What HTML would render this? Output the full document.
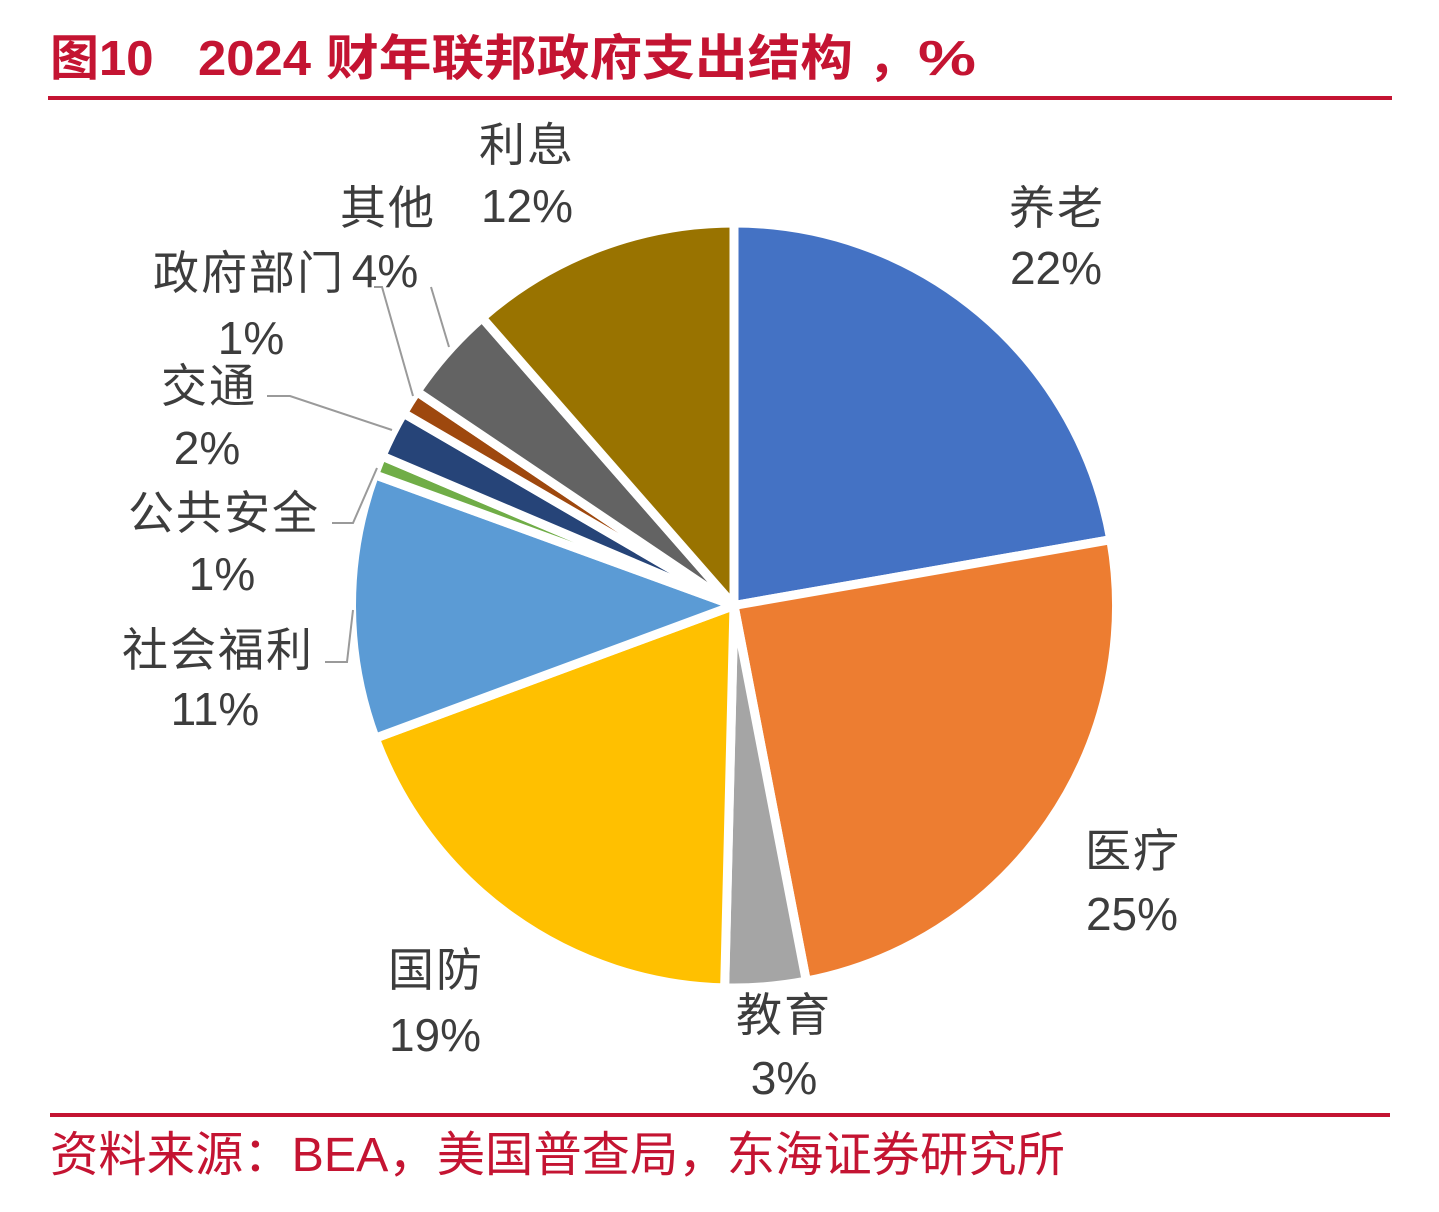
<!DOCTYPE html>
<html>
<head>
<meta charset="utf-8">
<style>
  html, body { margin: 0; padding: 0; background: #ffffff; }
  svg { display: block; }
  .t { font-family: "Liberation Sans", "Noto Sans CJK SC", sans-serif; }
  .lbl { font-family: "Liberation Sans", "Noto Sans CJK SC", sans-serif; font-size: 46px; fill: #3d3d3d; text-anchor: middle; }
  .cj { letter-spacing: 2px; }
</style>
</head>
<body>
<svg width="1439" height="1212" viewBox="0 0 1439 1212" xmlns="http://www.w3.org/2000/svg">
  <rect x="0" y="0" width="1439" height="1212" fill="#ffffff"/>

  <!-- Title -->
  <g class="t" fill="#c41432" font-weight="bold" font-size="49">
    <text x="50" y="75">图10</text>
    <text x="198" y="75" textLength="113" lengthAdjust="spacingAndGlyphs">2024</text>
    <text x="326" y="75" textLength="527" lengthAdjust="spacingAndGlyphs">财年联邦政府支出结构</text>
    <text x="868" y="75">，</text>
    <text x="918" y="75" textLength="58" lengthAdjust="spacingAndGlyphs">%</text>
  </g>
  <rect x="48" y="96" width="1344" height="4" fill="#c41432"/>

  <!-- Pie -->
  <g stroke="#ffffff" stroke-width="9" stroke-linejoin="round">
    <path d="M734,605.5 L734,223 A382.5,382.5 0 0 1 1110.80,539.74 Z" fill="#4472C4"/>
    <path d="M734,605.5 L1110.80,539.74 A382.5,382.5 0 0 1 806.33,981.10 Z" fill="#ED7D31"/>
    <path d="M734,605.5 L806.33,981.10 A382.5,382.5 0 0 1 724.65,987.89 Z" fill="#A5A5A5"/>
    <path d="M734,605.5 L724.65,987.89 A382.5,382.5 0 0 1 375.25,738.20 Z" fill="#FFC000"/>
    <path d="M734,605.5 L375.25,738.20 A382.5,382.5 0 0 1 374.57,474.68 Z" fill="#5B9BD5"/>
    <path d="M734,605.5 L374.57,474.68 A382.5,382.5 0 0 1 381.91,456.05 Z" fill="#70AD47"/>
    <path d="M734,605.5 L381.91,456.05 A382.5,382.5 0 0 1 403.41,413.09 Z" fill="#264478"/>
    <path d="M734,605.5 L403.41,413.09 A382.5,382.5 0 0 1 416.89,391.61 Z" fill="#9E480E"/>
    <path d="M734,605.5 L416.89,391.61 A382.5,382.5 0 0 1 482.05,317.70 Z" fill="#636363"/>
    <path d="M734,605.5 L482.05,317.70 A382.5,382.5 0 0 1 734,223 Z" fill="#997300"/>
  </g>

  <!-- Leader lines -->
  <g fill="none" stroke="#9a9a9a" stroke-width="2">
    <polyline points="431,287 449,347"/>
    <polyline points="374,287 382,287 413,396"/>
    <polyline points="267,396 290,396 392,430"/>
    <polyline points="332,523 353,523 377,468"/>
    <polyline points="325,662 347,662 353,610"/>
  </g>

  <!-- Labels -->
  <g class="lbl">
    <text class="cj" x="1057" y="224">养老</text>
    <text x="1056" y="284">22%</text>

    <text class="cj" x="1133" y="867">医疗</text>
    <text x="1132" y="930">25%</text>

    <text class="cj" x="784" y="1031">教育</text>
    <text x="784" y="1094">3%</text>

    <text class="cj" x="436" y="986">国防</text>
    <text x="435" y="1051">19%</text>

    <text class="cj" x="218" y="666">社会福利</text>
    <text x="215" y="725">11%</text>

    <text class="cj" x="224" y="529">公共安全</text>
    <text x="222" y="590">1%</text>

    <text class="cj" x="209" y="402">交通</text>
    <text x="207" y="464">2%</text>

    <text class="cj" x="249" y="289">政府部门</text>
    <text x="251" y="354">1%</text>

    <text class="cj" x="388" y="224">其他</text>
    <text x="385" y="287">4%</text>

    <text class="cj" x="527" y="161">利息</text>
    <text x="527" y="222">12%</text>
  </g>

  <!-- Footer -->
  <rect x="50" y="1113" width="1340" height="4" fill="#c41432"/>
  <text class="t" x="50" y="1171" font-size="48" fill="#c41432" textLength="1015" lengthAdjust="spacingAndGlyphs">资料来源：BEA，美国普查局，东海证券研究所</text>
</svg>
</body>
</html>
